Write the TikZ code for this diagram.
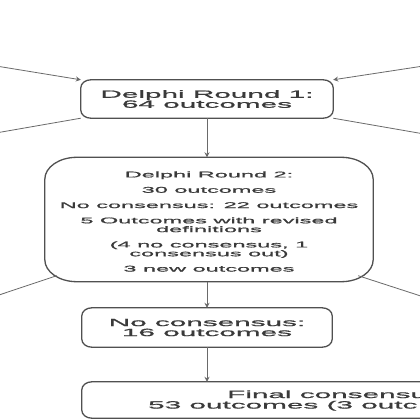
\documentclass[tikz,border=0pt]{standalone}
\usepackage{fontspec}
\setmainfont{Liberation Sans}
\newfontfamily\wfont[FakeStretch=2.83,FakeBold=1.2]{Liberation Sans}
\usetikzlibrary{arrows.meta}
\definecolor{txt}{HTML}{3A3A3A}
\definecolor{edge}{HTML}{505050}
\definecolor{wire}{HTML}{6A6A6A}
\tikzset{
  boxline/.style={draw=edge, line width=1.3pt},
  holder/.style={draw=none, inner sep=0pt, text=txt, align=center},
  wirel/.style={draw=wire, line width=0.8pt},
  arr/.style={wirel, -{Stealth[length=5pt,width=5pt]}},
  bigtext/.style={font=\fontsize{10.5}{10}\wfont},
  smalltext/.style={font=\fontsize{8.3}{8.8}\wfont},
}
\newcommand\rbox[3]{%
  \draw[boxline] ([xshift=#2]#1.north west) -- ([xshift=-#2]#1.north east)
    arc[start angle=90,end angle=0,x radius=#2,y radius=#3]
    -- ([yshift=#3]#1.south east)
    arc[start angle=0,end angle=-90,x radius=#2,y radius=#3]
    -- ([xshift=#2]#1.south west)
    arc[start angle=-90,end angle=-180,x radius=#2,y radius=#3]
    -- ([yshift=-#3]#1.north west)
    arc[start angle=180,end angle=90,x radius=#2,y radius=#3] -- cycle;}
\begin{document}
\begin{tikzpicture}[x=1pt,y=1pt]
\useasboundingbox (0,0) rectangle (420,-420);
\fill[white] (0,0) rectangle (420,-420);
\clip (0,0) rectangle (420,-420);

\node[holder, bigtext, minimum width=252pt, minimum height=38pt] (b1) at (207,-99) {Delphi Round 1:\\64 outcomes};
\node[holder, minimum width=328pt, minimum height=124pt] (b2) at (209,-219.5) {};
\node[holder, smalltext] (t2) at (209,-221.5)
  {Delphi Round 2:\\[6.5pt]30 outcomes\\[6.5pt]No consensus: 22 outcomes\\[6.5pt]5 Outcomes with revised\\definitions\\[6.5pt](4 no consensus, 1\\consensus out)\\[6.5pt]3 new outcomes};
\node[holder, bigtext, minimum width=250pt, minimum height=39pt] (b3) at (207,-327.5) {No consensus:\\16 outcomes};
\node[holder, minimum width=512pt, minimum height=36pt] (b4) at (338,-400) {};
\node[holder, bigtext, anchor=base west] (t4a) at (227,-398) {Final consensus:};
\node[holder, bigtext, anchor=base west] (t4b) at (148,-408.5) {53 outcomes (3 outc};

\rbox{b1}{10pt}{8pt}
\rbox{b2}{32pt}{22pt}
\rbox{b3}{10pt}{8pt}
\rbox{b4}{10pt}{8pt}

\coordinate (inL) at (-10,-65);
\coordinate (inR) at (430,-65);
\coordinate (outL1) at (-10,-134);
\coordinate (outR1) at (430,-135);
\coordinate (outL2) at (-10,-298);
\coordinate (outR2) at (430,-299);
\coordinate (c2L) at ([shift={(12pt,6pt)}]b2.south west);
\coordinate (c2R) at ([shift={(-15pt,6pt)}]b2.south east);

\draw[arr] (inL) -- (b1.north west);
\draw[arr] (inR) -- (b1.north east);
\draw[wirel] (b1.south west) -- (outL1);
\draw[wirel] (b1.south east) -- (outR1);
\draw[wirel] (c2L) -- (outL2);
\draw[wirel] (c2R) -- (outR2);

\draw[arr] (b1.south) -- (b1.south |- b2.north);
\draw[arr] (b2.south -| b1.south) -- (b3.north);
\draw[arr] (b3.south) -- (b3.south |- b4.north);
\end{tikzpicture}
\end{document}
